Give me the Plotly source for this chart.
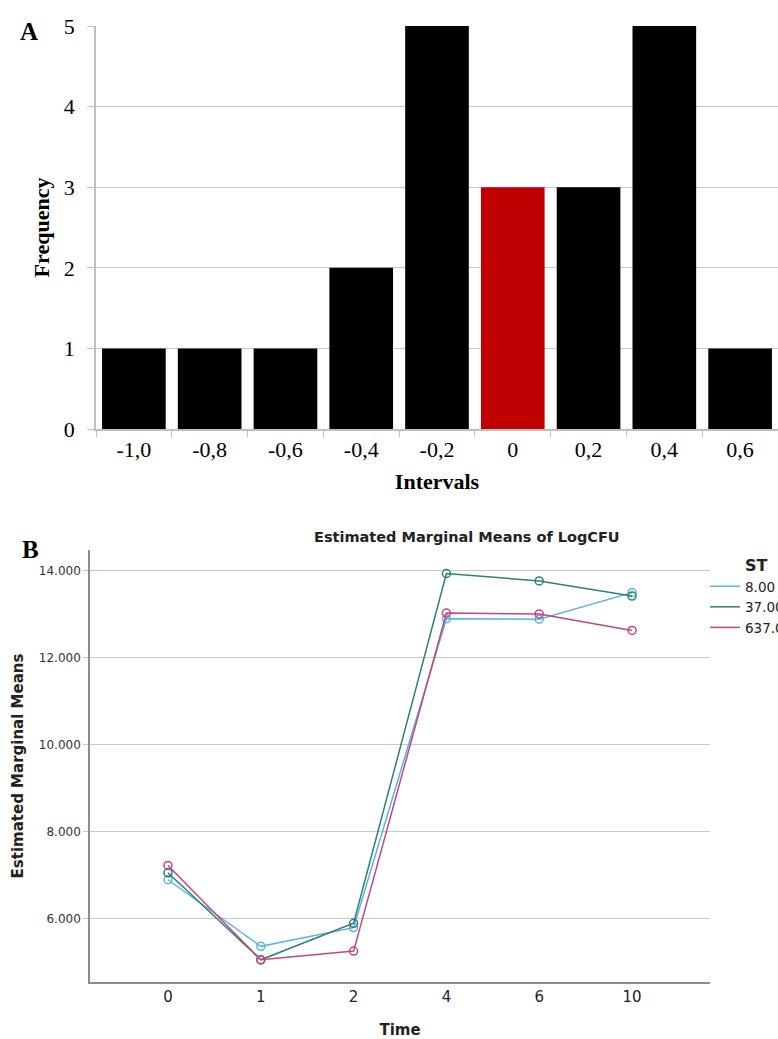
import plotly.graph_objects as go

# Panel A data
intervals = ["-1,0", "-0,8", "-0,6", "-0,4", "-0,2", "0", "0,2", "0,4", "0,6"]
frequency = [1, 1, 1, 2, 5, 3, 3, 5, 1]
highlight = "0"

# Panel B data
times = ["0", "1", "2", "4", "6", "10"]
st_8 = [6.90, 5.37, 5.80, 12.90, 12.89, 13.50]
st_37 = [7.06, 5.06, 5.90, 13.94, 13.77, 13.42]
st_637 = [7.23, 5.06, 5.26, 13.03, 13.01, 12.63]
series_names = ["8.00", "37.00", "637.00"]

W, H = 778, 1039
def fx(px):
    return px / W
def fy(py):
    return (H - py) / H

fig = go.Figure()

bar_colors = ["#C00000" if c == highlight else "#000000" for c in intervals]
fig.add_trace(go.Bar(x=intervals, y=frequency, marker=dict(color=bar_colors, line=dict(width=0)),
                     width=0.84, xaxis="x", yaxis="y", showlegend=False))

colors = ["#56B4E9", "#2E7F74", "#C4467E"]
for name, vals, col in zip(series_names, [st_8, st_37, st_637], colors):
    fig.add_trace(go.Scatter(x=times, y=vals, mode="lines+markers", name=name,
                             line=dict(color=col, width=1.5),
                             marker=dict(symbol="circle-open", size=8, color=col, line=dict(width=1.5)),
                             xaxis="x2", yaxis="y2", showlegend=False, legendgroup=name))
    # legend entry (line only, as in the reference legend)
    fig.add_trace(go.Scatter(x=[None], y=[None], mode="lines", name=name,
                             line=dict(color=col, width=1.5),
                             xaxis="x2", yaxis="y2", showlegend=True, legendgroup=name))

serif = "Liberation Serif"
sans = "DejaVu Sans"
dark = "#222222"

fig.update_layout(
    width=W, height=H,
    margin=dict(l=0, r=0, t=0, b=0, autoexpand=False),
    paper_bgcolor="white", plot_bgcolor="white",
    xaxis=dict(domain=[fx(96), 1], type="category", range=[-0.5, 8.5],
               showline=True, linecolor="#BFBFBF", linewidth=1.5,
               ticks="outside", tickson="boundaries", ticklen=6, tickcolor="#BFBFBF",
               tickfont=dict(family=serif, size=22, color="black"),
               title=dict(text="<b>Intervals</b>", font=dict(family=serif, size=22, color="black"), standoff=12),
               showgrid=False, anchor="y"),
    yaxis=dict(domain=[fy(429), fy(26)], range=[0, 5], dtick=1,
               showline=True, linecolor="#BFBFBF", linewidth=1.5,
               ticks="outside", ticklen=7, tickcolor="#BFBFBF", ticklabelstandoff=8,
               showgrid=True, gridcolor="#C8C8C8", gridwidth=1,
               tickfont=dict(family=serif, size=22, color="black"),
               title=dict(text="<b>Frequency</b>", font=dict(family=serif, size=22, color="black"), standoff=8),
               zeroline=False, anchor="x"),
    xaxis2=dict(domain=[fx(90), fx(710)], type="category", range=[-0.84, 5.84],
                showline=True, linecolor="#8C8C8C", linewidth=1.5,
                ticks="", showgrid=False,
                tickfont=dict(family=sans, size=15, color=dark),
                title=dict(text="<b>Time</b>", font=dict(family=sans, size=15, color=dark), standoff=20),
                anchor="y2"),
    yaxis2=dict(domain=[fy(982), fy(550)], range=[4.55, 14.48],
                tickvals=[6, 8, 10, 12, 14], ticktext=["6.000", "8.000", "10.000", "12.000", "14.000"],
                showline=True, linecolor="#8C8C8C", linewidth=1.5,
                ticks="outside", ticklen=5, tickcolor="#C8C8C8",
                showgrid=True, gridcolor="#C8C8C8", gridwidth=1.2, zeroline=False,
                tickfont=dict(family=sans, size=12, color="#333333"),
                title=dict(text="<b>Estimated Marginal Means</b>", font=dict(family=sans, size=15, color=dark), standoff=12),
                anchor="x2"),
    legend=dict(x=fx(705), y=fy(571), xanchor="left", yanchor="top",
                font=dict(family=sans, size=13.5, color=dark),
                tracegroupgap=0, itemwidth=30, bgcolor="rgba(0,0,0,0)"),
    annotations=[
        dict(text="<b>A</b>", x=fx(29), y=fy(31), xref="paper", yref="paper", showarrow=False,
             font=dict(family=serif, size=25, color="black"), xanchor="center", yanchor="middle"),
        dict(text="<b>B</b>", x=fx(30), y=fy(549), xref="paper", yref="paper", showarrow=False,
             font=dict(family=serif, size=25, color="black"), xanchor="center", yanchor="middle"),
        dict(text="<b>Estimated Marginal Means of LogCFU</b>", x=fx(467), y=fy(537), xref="paper", yref="paper",
             showarrow=False, font=dict(family=sans, size=14.5, color=dark), xanchor="center", yanchor="middle"),
        dict(text="<b>ST</b>", x=fx(743), y=fy(565), xref="paper", yref="paper", showarrow=False,
             font=dict(family=sans, size=16, color=dark), xanchor="left", yanchor="middle"),
    ],
)

fig.write_html("out.html")
